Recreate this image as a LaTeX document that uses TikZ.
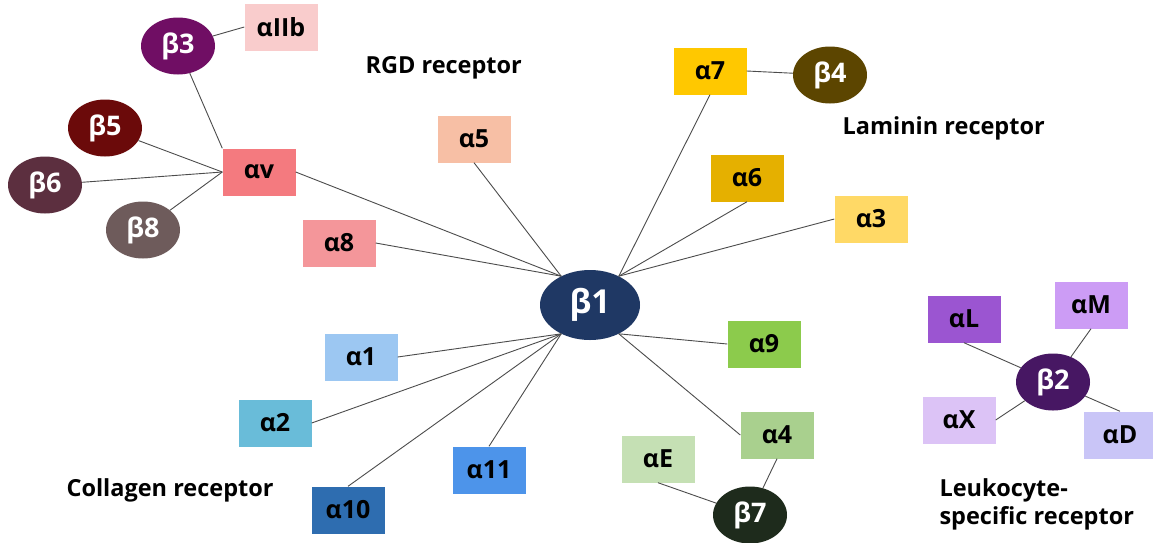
\documentclass[tikz,border=0pt]{standalone}
\usepackage{fontspec}
\setmainfont{Open Sans}
\usetikzlibrary{shapes.geometric}

\definecolor{cb1}{HTML}{1F3864}
\definecolor{cb2}{HTML}{471763}
\definecolor{cb3}{HTML}{700E64}
\definecolor{cb4}{HTML}{5C4500}
\definecolor{cb5}{HTML}{6B0A0A}
\definecolor{cb6}{HTML}{5C2F3F}
\definecolor{cb7}{HTML}{1E2B1C}
\definecolor{cb8}{HTML}{6E5B5B}
\definecolor{caIIb}{HTML}{F9CCCC}
\definecolor{cav}{HTML}{F47A7F}
\definecolor{ca8}{HTML}{F4969A}
\definecolor{ca5}{HTML}{F7BFA5}
\definecolor{ca7}{HTML}{FFC800}
\definecolor{ca6}{HTML}{E5B000}
\definecolor{ca3}{HTML}{FFD966}
\definecolor{ca9}{HTML}{8CCB4C}
\definecolor{ca4}{HTML}{A9D08E}
\definecolor{caE}{HTML}{C5E0B4}
\definecolor{ca1}{HTML}{9CC7F2}
\definecolor{ca2}{HTML}{69BCD9}
\definecolor{ca10}{HTML}{2E6DB0}
\definecolor{ca11}{HTML}{4D94EA}
\definecolor{caL}{HTML}{9B55D1}
\definecolor{caM}{HTML}{CC9CF5}
\definecolor{caX}{HTML}{DCC3F6}
\definecolor{caD}{HTML}{C9C5F7}

\tikzset{
  rec/.style={rectangle, minimum width=73pt, minimum height=47pt, inner sep=0pt,
    font=\fontsize{25}{27}\selectfont\bfseries},
  bet/.style={ellipse, minimum width=74pt, minimum height=57pt, inner sep=0pt,
    text=white, font=\fontsize{27}{29}\selectfont\bfseries},
  lab/.style={anchor=west, align=left, font=\fontsize{23.5}{28}\selectfont\bfseries},
  con/.style={draw=black!70, line width=0.9pt}
}

\begin{document}
\begin{tikzpicture}[x=1pt,y=-1pt]
\useasboundingbox[fill=white] (0,0) rectangle (1153,542);

% beta 1 in the middle
\node[bet, fill=cb1, minimum width=100pt, minimum height=70pt,
  font=\fontsize{33}{35}\selectfont\bfseries] (b1) at (590,305) {β1};

% RGD receptor
\node[rec, fill=cav] (av) at (259,172) {αv};
\node[rec, fill=ca8] (a8) at (339,243) {α8};
\node[rec, fill=ca5] (a5) at (474,139) {α5};
\node[rec, fill=caIIb] (aIIb) at (281,27) {αIIb};
\node[bet, fill=cb3] (b3) at (178,46) {β3};
\node[bet, fill=cb5] (b5) at (105,128) {β5};
\node[bet, fill=cb6] (b6) at (45,185) {β6};
\node[bet, fill=cb8] (b8) at (143,230) {β8};
\node[lab] (rgd) at (362,68) {RGD receptor};

% laminin receptor
\node[rec, fill=ca7] (a7) at (710,71) {α7};
\node[bet, fill=cb4] (b4) at (830,75) {β4};
\node[rec, fill=ca6] (a6) at (747,178) {α6};
\node[rec, fill=ca3] (a3) at (871,219) {α3};
\node[lab] (lam) at (839,128) {Laminin receptor};

% collagen receptor
\node[rec, fill=ca1] (a1) at (361,357) {α1};
\node[rec, fill=ca2] (a2) at (275,423) {α2};
\node[rec, fill=ca10] (a10) at (348,510) {α10};
\node[rec, fill=ca11] (a11) at (489,470) {α11};
\node[lab] (col) at (63,490) {Collagen receptor};

% alpha 9, alpha 4 and beta 7
\node[rec, fill=ca9] (a9) at (764,344) {α9};
\node[rec, fill=ca4] (a4) at (777,435) {α4};
\node[rec, fill=caE] (aE) at (658,459) {αE};
\node[bet, fill=cb7] (b7) at (750,515) {β7};

% leukocyte-specific receptor
\node[bet, fill=cb2] (b2) at (1053,382) {β2};
\node[rec, fill=caL] (aL) at (964,319) {αL};
\node[rec, fill=caM] (aM) at (1091,305) {αM};
\node[rec, fill=caX] (aX) at (959,420) {αX};
\node[rec, fill=caD] (aD) at (1120,435) {αD};
\node[lab] (leu) at (936,504) {Leukocyte-\\specific receptor};

% connectors
\draw[con] (a8.east) -- (b1.135);
\draw[con] (av.east) -- (b1.135);
\draw[con] (a5.south) -- (b1.135);
\draw[con] (a7.south) -- (b1.45);
\draw[con] (a6.south) -- (b1.45);
\draw[con] (a3.west) -- (b1.45);
\draw[con] (a1.east) -- (b1.225);
\draw[con] (a2.east) -- (b1.225);
\draw[con] (a10.north) -- (b1.225);
\draw[con] (a11.north) -- (b1.225);
\draw[con] (a9.west) -- (b1.315);
\draw[con] (a4.west) -- (b1.315);

\draw[con] (b3) -- (av.north west);
\draw[con] (b5) -- (av.west);
\draw[con] (b6) -- (av.west);
\draw[con] (b8) -- (av.west);
\draw[con] (b3) -- (aIIb.west);
\draw[con] (a7.east) -- (b4);
\draw[con] (b7) -- (a4.south);
\draw[con] (b7) -- (aE.south);
\draw[con] (b2) -- (aL.south);
\draw[con] (b2) -- (aM.south);
\draw[con] (b2) -- (aX.east);
\draw[con] (b2) -- (aD.north);
\end{tikzpicture}
\end{document}
